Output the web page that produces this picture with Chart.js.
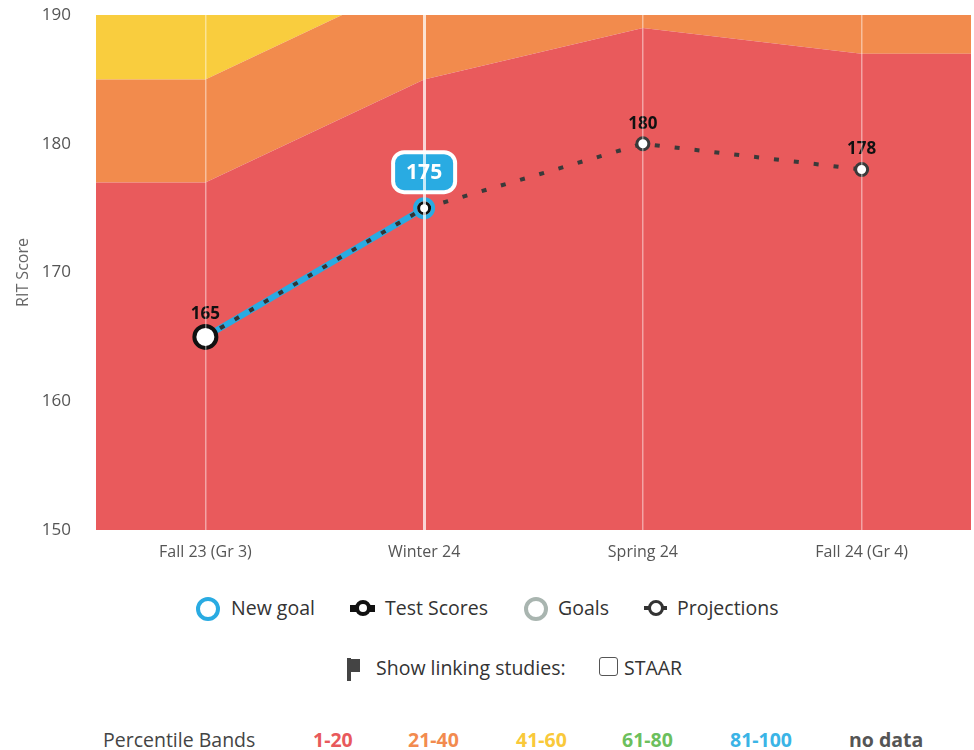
<!DOCTYPE html>
<html>
<head>
<meta charset="utf-8">
<script src="https://cdn.jsdelivr.net/npm/chart.js@4/dist/chart.umd.min.js"></script>
<style>
  body{margin:0;background:#fff;font-family:"Open Sans",sans-serif;color:#333;}
  #wrap{position:relative;width:974px;height:750px;overflow:hidden;}
  #chartBox{position:absolute;left:0;top:0;width:986px;height:580px;}
  .row{position:absolute;left:0;width:974px;font-size:19.5px;white-space:nowrap;}
  .item{position:absolute;top:0;line-height:24px;}
  .ring{position:absolute;box-sizing:border-box;border-radius:50%;background:#fff;}
  .bar{position:absolute;}
  .band{font-weight:bold;}
</style>
</head>
<body>
<div id="wrap">
  <div id="chartBox"><canvas id="c"></canvas></div>

  <div class="row" style="top:596px;">
    <span class="ring" style="left:196px;top:1px;width:24px;height:24px;border:4.5px solid #29abe2;"></span>
    <span class="item" style="left:231px;">New goal</span>
    <span class="bar" style="left:350px;top:9px;width:25px;height:7px;background:#111;"></span>
    <span class="ring" style="left:355px;top:4px;width:16px;height:16px;border:4px solid #111;"></span>
    <span class="item" style="left:385px;">Test Scores</span>
    <span class="ring" style="left:524px;top:1px;width:24px;height:24px;border:4.5px solid #a9b5b0;"></span>
    <span class="item" style="left:558px;">Goals</span>
    <span class="bar" style="left:644px;top:10px;width:23px;height:4px;background:#333;"></span>
    <span class="ring" style="left:648px;top:4px;width:16px;height:16px;border:3.5px solid #333;"></span>
    <span class="item" style="left:677px;">Projections</span>
  </div>

  <div class="row" style="top:656px;">
    <span class="bar" style="left:347px;top:2px;width:4px;height:23px;background:#444;"></span>
    <span class="bar" style="left:350px;top:3px;width:10px;height:13px;background:#444;"></span>
    <span class="item" style="left:376px;">Show linking studies:</span>
    <span class="bar" style="left:599px;top:1px;width:19px;height:19px;border:1.5px solid #555;border-radius:3px;box-sizing:border-box;"></span>
    <span class="item" style="left:624px;">STAAR</span>
  </div>

  <div class="row" style="top:728px;">
    <span class="item" style="left:103px;color:#444;">Percentile Bands</span>
    <span class="item band" style="left:313px;color:#e8595c;">1-20</span>
    <span class="item band" style="left:408px;color:#f28b4f;">21-40</span>
    <span class="item band" style="left:516px;color:#f9c93a;">41-60</span>
    <span class="item band" style="left:622px;color:#6cbf5d;">61-80</span>
    <span class="item band" style="left:730px;color:#3ab4e6;">81-100</span>
    <span class="item band" style="left:849px;color:#555;">no data</span>
  </div>
</div>

<script>
// terms on the x axis
const terms = ['Fall 23 (Gr 3)', 'Winter 24', 'Spring 24', 'Fall 24 (Gr 4)'];
// percentile band upper edges (RIT) per term
const band1to20 = [177, 185, 189, 187];
const band21to40 = [185, 193, 197, 195];
const band41to60 = [193, 201, 205, 203];
// scores
const testScores = [165, 175, null, null];
const newGoal = [165, 175, null, null];
const projections = [null, 175, 180, 178];
const yTicks = [150, 160, 170, 180, 190];

const RED = '#e95a5c', ORANGE = '#f28b4d', YELLOW = '#f9cd3e';

// band series stretched flat to the outer edges of the plot
function bandPoints(arr) {
  const pts = arr.map((v, i) => ({x: i, y: v}));
  pts.unshift({x: -0.5, y: arr[0]});
  pts.push({x: arr.length - 0.5, y: arr[arr.length - 1]});
  return pts;
}
function linePoints(arr) {
  return arr.map((v, i) => ({x: i, y: v}));
}

const bandDs = (data, color, fill) => ({
  type: 'line', data: bandPoints(data), backgroundColor: color, borderWidth: 0,
  pointRadius: 0, fill: fill, tension: 0, order: 10
});

// labels over the points
const pointLabels = {
  id: 'pointLabels',
  afterDatasetsDraw(chart) {
    const ctx = chart.ctx;
    ctx.save();
    ctx.textAlign = 'center';
    ctx.textBaseline = 'middle';
    ctx.fillStyle = '#111';
    ctx.font = 'bold 17px "Open Sans"';
    const ts = chart.getDatasetMeta(4).data[0];
    ctx.fillText(String(testScores[0]), ts.x, ts.y - 23);
    const pm = chart.getDatasetMeta(6).data;
    [2, 3].forEach(i => ctx.fillText(String(projections[i]), pm[i].x, pm[i].y - 20));

    // highlighted new score badge
    const p = chart.getDatasetMeta(4).data[1];
    const w = 66, h = 44, cx = p.x, cy = p.y - 36;
    ctx.beginPath();
    ctx.roundRect(cx - w / 2, cy - h / 2, w, h, 13);
    ctx.fillStyle = '#fff';
    ctx.fill();
    ctx.beginPath();
    ctx.roundRect(cx - w / 2 + 4, cy - h / 2 + 4, w - 8, h - 8, 9);
    ctx.fillStyle = '#29abe2';
    ctx.fill();
    ctx.fillStyle = '#fff';
    ctx.font = 'bold 21px "Open Sans"';
    ctx.fillText(String(testScores[1]), cx, cy + 1);
    ctx.restore();
  }
};

new Chart(document.getElementById('c'), {
  data: {
    datasets: [
      bandDs(band1to20, RED, 'start'),
      bandDs(band21to40, ORANGE, '-1'),
      bandDs(band41to60, YELLOW, '-1'),
      {
        // New goal (blue under-line)
        type: 'line', data: linePoints(newGoal), borderColor: '#29abe2', borderWidth: 6,
        pointRadius: [0, 9], pointBorderWidth: 4, pointBorderColor: '#29abe2',
        pointBackgroundColor: '#fff', fill: false, order: 5
      },
      {
        // Test Scores
        type: 'line', data: linePoints(testScores), borderColor: '#333', borderWidth: 4,
        borderDash: [5, 12], pointRadius: [11, 5.5], pointBorderWidth: [4, 3],
        pointBorderColor: '#111', pointBackgroundColor: '#fff', fill: false, order: 2
      },
      {
        // Goals (none)
        type: 'line', data: [], borderColor: '#a9b5b0', fill: false, order: 4
      },
      {
        // Projections
        type: 'line', data: linePoints(projections), borderColor: '#3a3a3a', borderWidth: 4,
        borderDash: [5, 15], pointRadius: [0, 0, 6, 6], pointBorderWidth: 3,
        pointBorderColor: '#3a3a3a', pointBackgroundColor: '#fff', fill: false, order: 3
      }
    ]
  },
  options: {
    responsive: true,
    maintainAspectRatio: false,
    animation: false,
    layout: {padding: {top: 13, right: 3, left: 0, bottom: 0}},
    plugins: {legend: {display: false}, tooltip: {enabled: false}},
    events: [],
    scales: {
      x: {
        type: 'linear', min: -0.5, max: terms.length - 0.5,
        afterBuildTicks: s => { s.ticks = terms.map((t, i) => ({value: i})); },
        afterFit: s => { s.height = 50; s.paddingLeft = 0; s.paddingRight = 0; },
        ticks: {
          callback: v => terms[v], color: '#555', padding: 13,
          font: {family: '"Open Sans"', size: 16}, maxRotation: 0
        },
        grid: {
          z: 1, drawTicks: false,
          color: c => c.index === 1 ? 'rgba(255,255,255,0.75)' : 'rgba(255,255,255,0.45)',
          lineWidth: c => c.index === 1 ? 3 : 1.5
        },
        border: {display: false}
      },
      y: {
        min: 150, max: 190,
        afterBuildTicks: s => { s.ticks = yTicks.map(v => ({value: v})); },
        afterFit: s => { s.width = 96; s.paddingTop = 0; s.paddingBottom = 0; },
        ticks: {color: '#555', padding: 17, font: {family: '"Open Sans"', size: 17}},
        grid: {display: false},
        border: {display: false},
        title: {
          display: true, text: 'RIT Score', color: '#666', padding: {top: 14},
          font: {family: '"Open Sans"', size: 16}
        }
      }
    }
  },
  plugins: [pointLabels]
});
</script>
</body>
</html>
